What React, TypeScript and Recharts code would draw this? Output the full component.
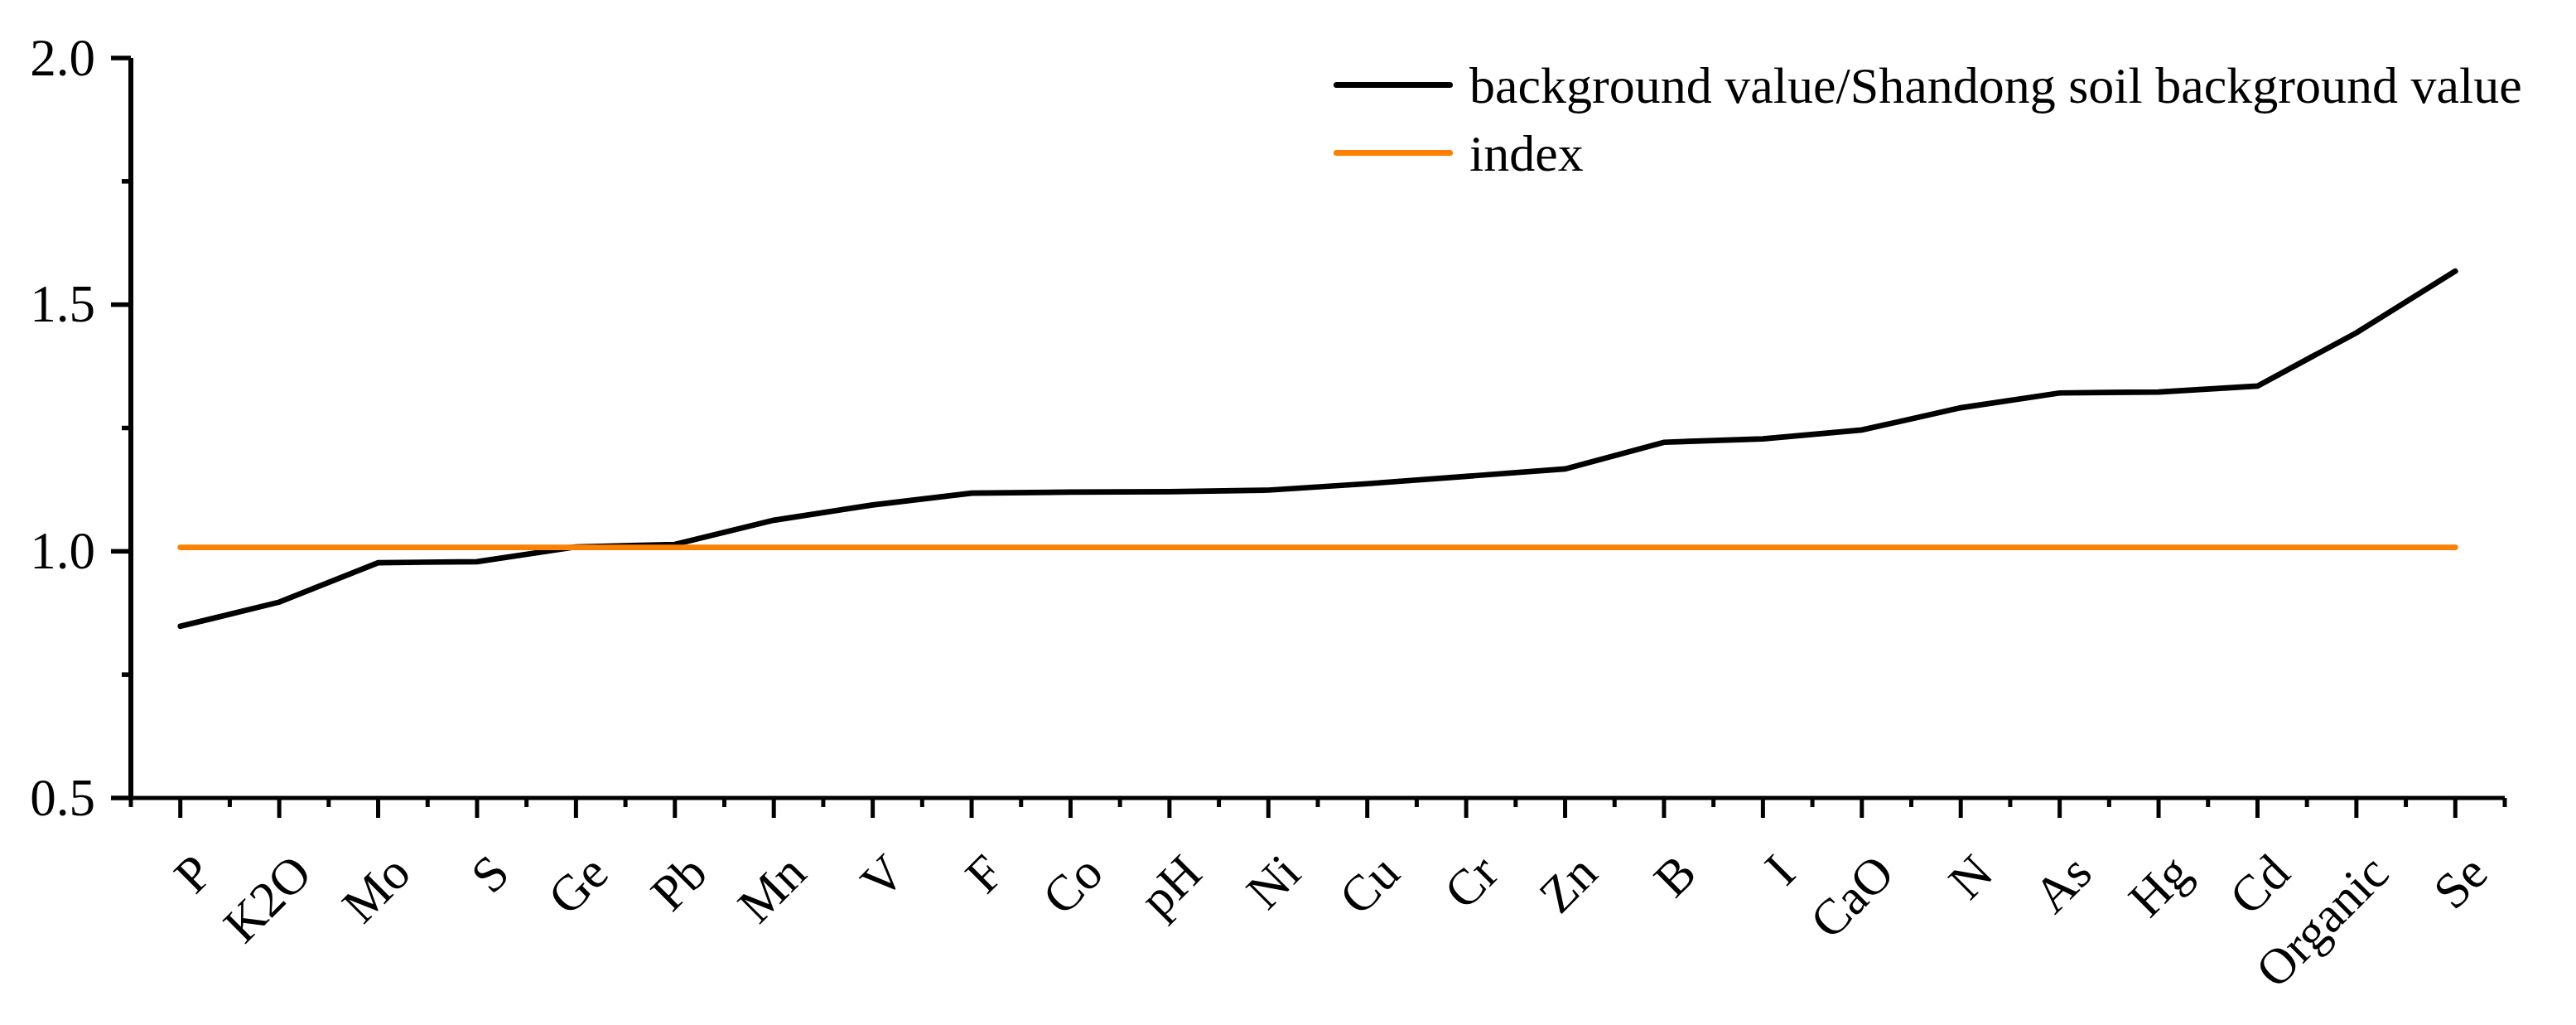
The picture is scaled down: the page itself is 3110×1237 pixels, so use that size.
import React from 'react';
import { LineChart, Line, XAxis, YAxis, Legend } from 'recharts';

const categories = ['P', 'K2O', 'Mo', 'S', 'Ge', 'Pb', 'Mn', 'V', 'F', 'Co', 'pH', 'Ni', 'Cu', 'Cr', 'Zn', 'B', 'I', 'CaO', 'N', 'As', 'Hg', 'Cd', 'Organic', 'Se'];
const ratioValues = [0.848, 0.897, 0.977, 0.979, 1.009, 1.014, 1.063, 1.094, 1.118, 1.120, 1.121, 1.124, 1.137, 1.152, 1.167, 1.221, 1.228, 1.246, 1.291, 1.321, 1.323, 1.335, 1.443, 1.568];
const indexValues = [1.008, 1.008, 1.008, 1.008, 1.008, 1.008, 1.008, 1.008, 1.008, 1.008, 1.008, 1.008, 1.008, 1.008, 1.008, 1.008, 1.008, 1.008, 1.008, 1.008, 1.008, 1.008, 1.008, 1.008];
const yTickValues = [0.5, 0.75, 1.0, 1.25, 1.5, 1.75, 2.0];
const seriesNames = ['background value/Shandong soil background value', 'index'];

const data = categories.map((name, i) => ({ idx: i, name, ratio: ratioValues[i], index: indexValues[i] }));
const xTicks = [...categories.flatMap((_, i) => [i - 0.5, i]), categories.length - 0.5];

const FONT = "'Liberation Serif', 'Times New Roman', serif";

const XTick = (props: any) => {
  const { x, y, payload } = props;
  const v = payload.value;
  const major = Number.isInteger(v);
  const ax = x + 42;
  const ay = y + 94;
  return (
    <g>
      <line x1={x} x2={x} y1={y} y2={y + (major ? 24 : 11)} stroke="#000" strokeWidth={5} />
      {major && (
        <text x={ax} y={ay} textAnchor="end" transform={`rotate(-45, ${ax}, ${ay})`} fontFamily={FONT} fontSize={61} fill="#000">
          {categories[v]}
        </text>
      )}
    </g>
  );
};

const YTick = (props: any) => {
  const { x, y, payload } = props;
  const v = payload.value;
  const major = Math.abs(v * 2 - Math.round(v * 2)) < 1e-6;
  return (
    <g>
      <line x1={x - (major ? 24 : 11)} x2={x} y1={y} y2={y} stroke="#000" strokeWidth={5.5} />
      {major && (
        <text x={x - 43} y={y} dy="0.33em" textAnchor="end" fontFamily={FONT} fontSize={63} fill="#000">
          {v.toFixed(1)}
        </text>
      )}
    </g>
  );
};

const renderLegend = (props: any) => {
  const { payload } = props;
  return (
    <div style={{ position: 'relative', fontFamily: FONT }}>
      {(payload || []).map((entry: any, i: number) => (
        <div key={i} style={{ position: 'relative', height: 82 }}>
          <div style={{ position: 'absolute', left: 0, top: 37, width: 144, height: 7, borderRadius: 3.5, background: entry.color }} />
          <div style={{ position: 'absolute', left: 164, top: 0, lineHeight: '82px', fontSize: 62, color: '#000', whiteSpace: 'nowrap' }}>
            {entry.value}
          </div>
        </div>
      ))}
    </div>
  );
};

export default function App() {
  return (
    <div style={{ width: 3094, height: 1221, background: '#fff' }}>
      <LineChart width={3094} height={1221} data={data} margin={{ top: 62, right: 78, bottom: 0, left: 0 }}>
        <XAxis
          dataKey="idx"
          type="number"
          domain={[-0.5, 23.5]}
          ticks={xTicks}
          interval={0}
          height={266}
          tickSize={0}
          tickMargin={0}
          tickLine={false}
          axisLine={{ stroke: '#000', strokeWidth: 5 }}
          tick={<XTick />}
        />
        <YAxis
          type="number"
          domain={[0.5, 2.0]}
          ticks={yTickValues}
          interval={0}
          width={150}
          tickSize={0}
          tickMargin={0}
          tickLine={false}
          axisLine={{ stroke: '#000', strokeWidth: 6 }}
          tick={<YTick />}
          allowDataOverflow
        />
        <Legend
          layout="horizontal"
          align="center"
          verticalAlign="middle"
          content={renderLegend}
          wrapperStyle={{ left: 1602, top: 54, width: 1480, height: 170 }}
        />
        <Line
          type="linear"
          dataKey="ratio"
          name={seriesNames[0]}
          stroke="#000000"
          strokeWidth={6.7}
          strokeLinecap="round"
          dot={false}
          activeDot={false}
          isAnimationActive={false}
        />
        <Line
          type="linear"
          dataKey="index"
          name={seriesNames[1]}
          stroke="#FF8000"
          strokeWidth={6.7}
          strokeLinecap="round"
          dot={false}
          activeDot={false}
          isAnimationActive={false}
        />
      </LineChart>
    </div>
  );
}
